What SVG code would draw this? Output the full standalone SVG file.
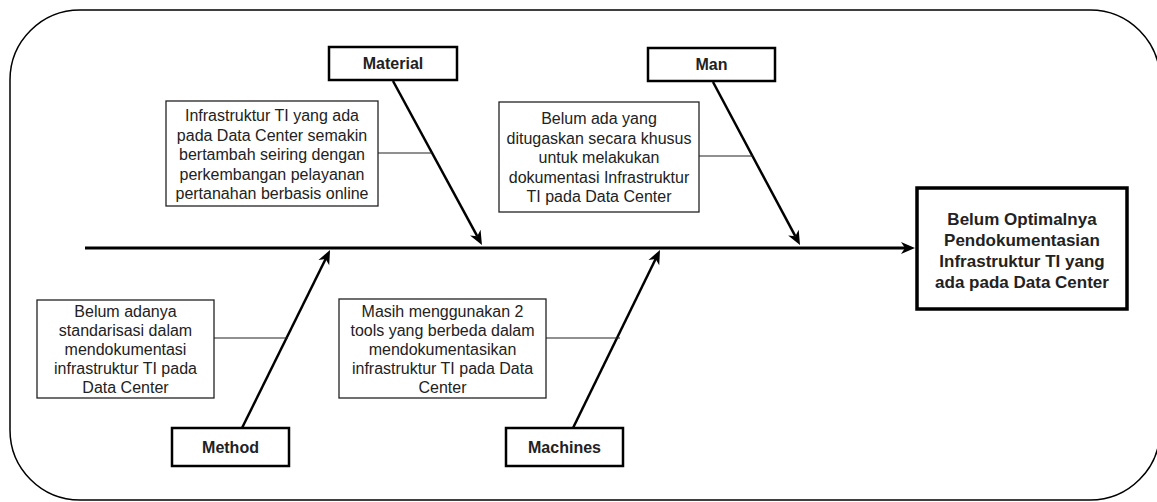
<svg xmlns="http://www.w3.org/2000/svg" width="1157" height="502" viewBox="0 0 1157 502">
<style>
.frame{fill:#fff;stroke:#000;stroke-width:1.5}
.note rect{fill:#fff;stroke:#222;stroke-width:1.3}
.note text{font-family:"Liberation Sans",Arial,sans-serif;font-size:16px;fill:#222;text-anchor:middle}
.cat rect{fill:#fff;stroke:#000;stroke-width:2.5}
.cat text{font-family:"Liberation Sans",Arial,sans-serif;font-size:16px;font-weight:bold;fill:#222;text-anchor:middle}
.res rect{fill:#fff;stroke:#000;stroke-width:3.5}
.res text{font-family:"Liberation Sans",Arial,sans-serif;font-size:17px;font-weight:bold;fill:#222;text-anchor:middle}
.bone{fill:none;stroke:#000;stroke-width:2.5;marker-end:url(#ah)}
.spine{fill:none;stroke:#000;stroke-width:3;marker-end:url(#ah)}
.tie{fill:none;stroke:#222;stroke-width:1.2}
</style>
<defs>
<marker id="ah" markerUnits="userSpaceOnUse" markerWidth="16" markerHeight="13" refX="4" refY="6" orient="auto" overflow="visible">
<path d="M0,0 L14,6 L0,12 L4,6 Z" fill="#000"/>
</marker>
</defs>
<rect class="frame" x="10" y="10" width="1150" height="490" rx="70" ry="70"/>
<g id="connectors">
<line class="spine" x1="85" y1="248" x2="905" y2="248"/>
<line class="bone" x1="393" y1="81" x2="477.2" y2="236.2"/>
<line class="bone" x1="713" y1="82" x2="795.3" y2="236.2"/>
<line class="bone" x1="242" y1="428" x2="325.6" y2="259"/>
<line class="bone" x1="573" y1="428" x2="655.6" y2="259"/>
<line class="tie" x1="378" y1="153" x2="432" y2="153"/>
<line class="tie" x1="699" y1="156" x2="753" y2="156"/>
<line class="tie" x1="214" y1="338" x2="288" y2="338"/>
<line class="tie" x1="546" y1="338" x2="620" y2="338"/>
</g>
<g id="material" class="cat">
<rect x="329" y="47" width="128" height="33"/>
<text x="393" y="69">Material</text>
</g>
<g id="man" class="cat">
<rect x="648" y="48" width="127" height="33"/>
<text x="711.5" y="70">Man</text>
</g>
<g id="method" class="cat">
<rect x="172" y="428" width="117" height="38"/>
<text x="230.5" y="453">Method</text>
</g>
<g id="machines" class="cat">
<rect x="506" y="428" width="117" height="38"/>
<text x="564.5" y="453">Machines</text>
</g>
<g id="note-material" class="note">
<rect x="166" y="101" width="212" height="105"/>
<text x="272" y="121">Infrastruktur TI yang ada</text>
<text x="272" y="140.5">pada Data Center semakin</text>
<text x="272" y="160">bertambah seiring dengan</text>
<text x="272" y="179.5">perkembangan pelayanan</text>
<text x="272" y="199">pertanahan berbasis online</text>
</g>
<g id="note-man" class="note">
<rect x="499" y="102" width="200" height="110"/>
<text x="599" y="124">Belum ada yang</text>
<text x="599" y="143.5">ditugaskan secara khusus</text>
<text x="599" y="163">untuk melakukan</text>
<text x="599" y="182.5">dokumentasi Infrastruktur</text>
<text x="599" y="202">TI pada Data Center</text>
</g>
<g id="note-method" class="note">
<rect x="37" y="300" width="177" height="98"/>
<text x="125.5" y="317">Belum adanya</text>
<text x="125.5" y="336">standarisasi dalam</text>
<text x="125.5" y="355">mendokumentasi</text>
<text x="125.5" y="374">infrastruktur TI pada</text>
<text x="125.5" y="393">Data Center</text>
</g>
<g id="note-machines" class="note">
<rect x="339" y="299" width="207" height="99"/>
<text x="442.5" y="317">Masih menggunakan 2</text>
<text x="442.5" y="336">tools yang berbeda dalam</text>
<text x="442.5" y="355">mendokumentasikan</text>
<text x="442.5" y="374">infrastruktur TI pada Data</text>
<text x="442.5" y="393">Center</text>
</g>
<g id="result" class="res">
<rect x="917" y="188" width="210" height="121"/>
<text x="1022" y="224.5">Belum Optimalnya</text>
<text x="1022" y="245.5">Pendokumentasian</text>
<text x="1022" y="266.5">Infrastruktur TI yang</text>
<text x="1022" y="287.5">ada pada Data Center</text>
</g>
</svg>
